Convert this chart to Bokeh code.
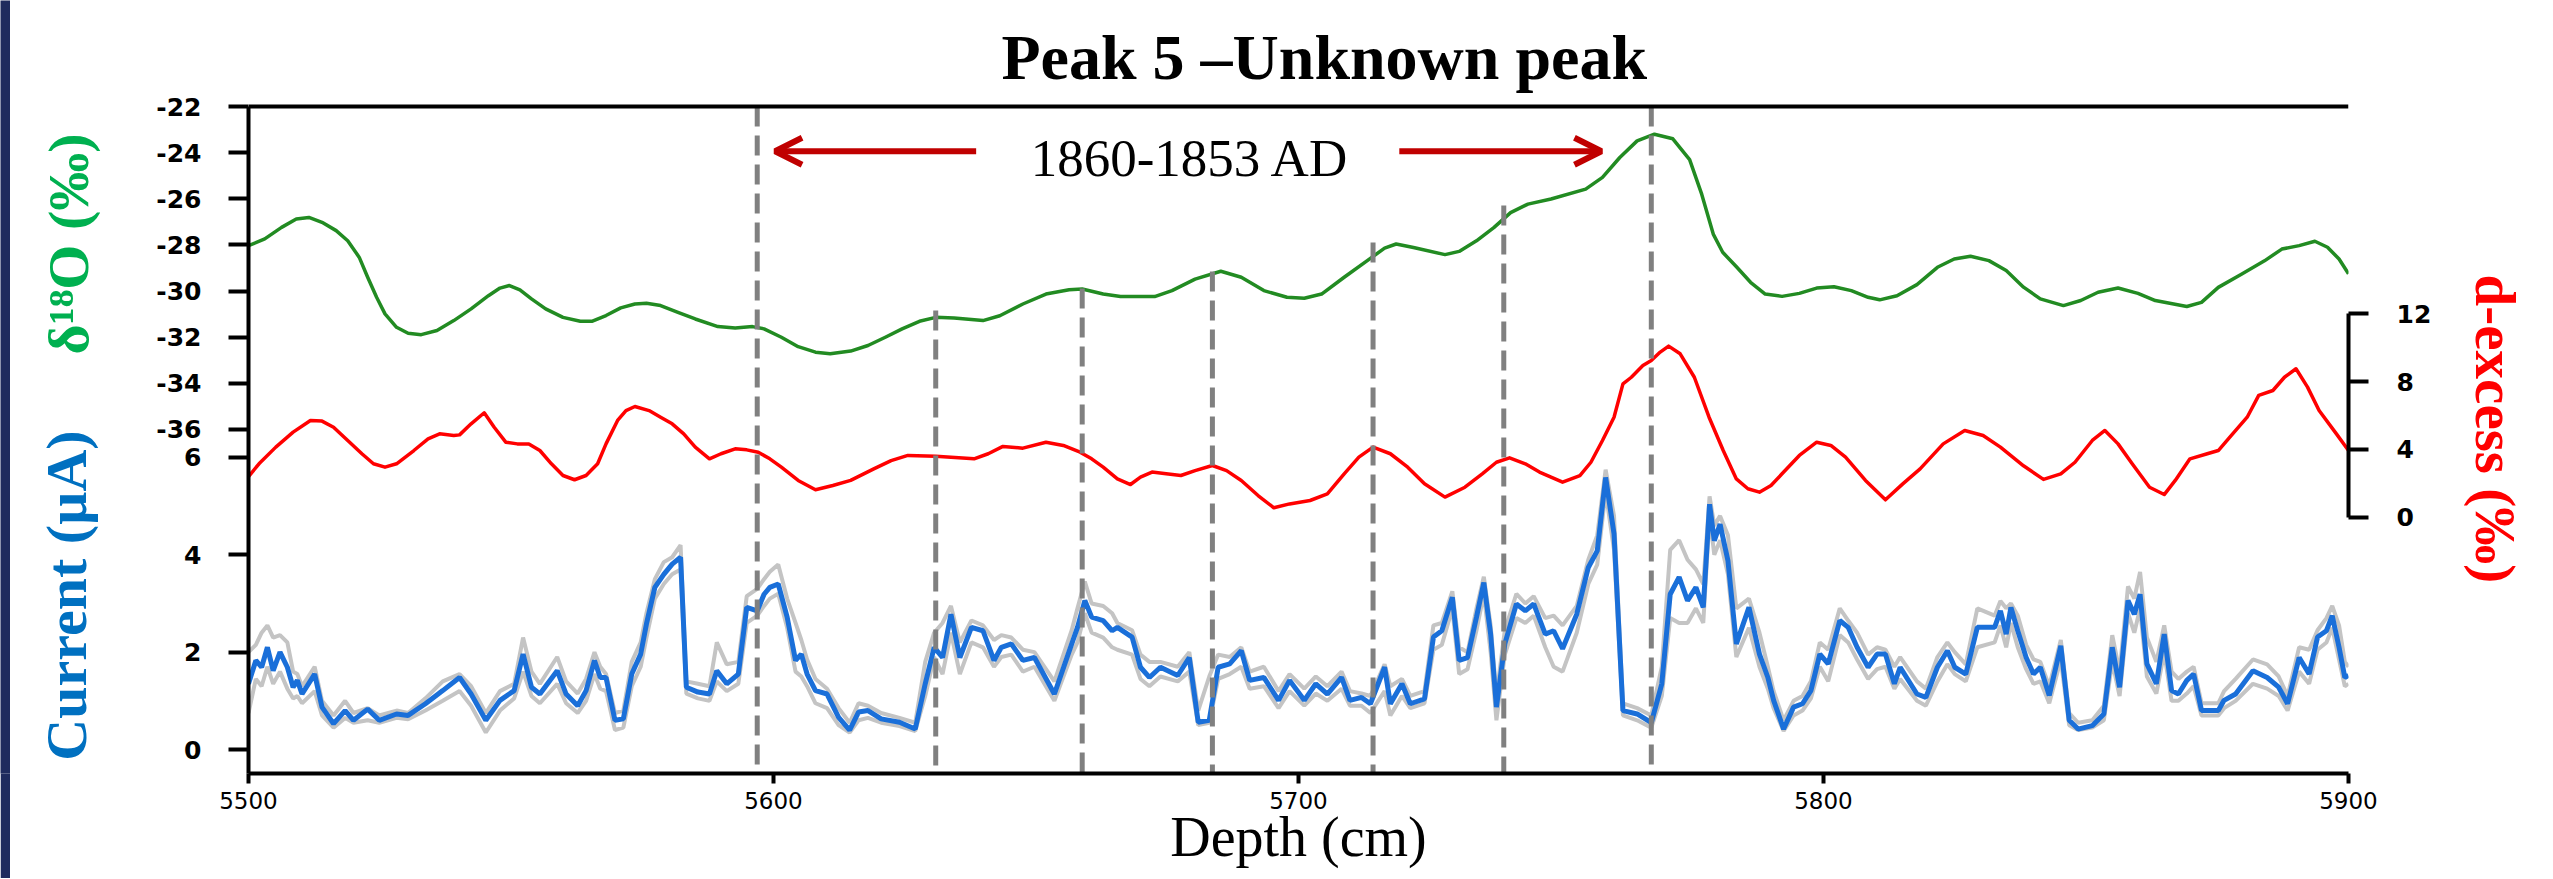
import math
from bokeh.plotting import figure
from bokeh.layouts import row
from bokeh.models import (Range1d, LinearAxis, FixedTicker, Label, Arrow, OpenHead,
                          Span, ColumnDataSource)
from bokeh.embed import file_html
from bokeh.resources import INLINE

# ---------------- data ----------------
title_text = "Peak 5 \u2013Unknown peak"
era_text = "1860-1853 AD"
x_label = "Depth (cm)"
d18o_label = "\u03b4\u00b9\u2078O (\u2030)"
current_label = "Current (\u00b5A)"
dex_label = "d-excess (\u2030)"

d18o_depth = [5500.0, 5503.1, 5506.3, 5509.1, 5511.5, 5514.0, 5516.7, 5518.9, 5521.1, 5522.7,
              5524.4, 5526.0, 5528.2, 5530.4, 5532.9, 5535.9, 5539.1, 5542.4, 5545.7, 5547.9,
              5549.7, 5551.7, 5553.9, 5556.6, 5559.9, 5563.2, 5565.4, 5568.1, 5570.9, 5573.6,
              5575.8, 5578.5, 5581.8, 5585.1, 5589.4, 5592.7, 5596.0, 5598.2, 5601.5, 5604.7,
              5608.0, 5610.8, 5614.7, 5618.0, 5621.3, 5624.5, 5627.8, 5630.9, 5634.4, 5639.9,
              5643.1, 5647.5, 5651.9, 5656.3, 5658.8, 5662.8, 5666.1, 5672.6, 5675.9, 5680.3,
              5685.2, 5689.1, 5693.4, 5697.8, 5701.1, 5704.4, 5708.7, 5713.1, 5716.4, 5718.6,
              5721.9, 5727.9, 5730.6, 5733.9, 5737.2, 5740.4, 5743.7, 5748.1, 5754.7, 5757.9,
              5761.2, 5764.5, 5767.8, 5771.3, 5774.5, 5776.8, 5779.0, 5780.8, 5783.5, 5786.1,
              5788.9, 5792.1, 5795.4, 5798.7, 5802.0, 5805.3, 5808.5, 5810.7, 5814.0, 5817.8,
              5821.7, 5824.9, 5828.0, 5831.5, 5834.8, 5838.1, 5841.3, 5845.7, 5849.0, 5852.3,
              5856.1, 5859.9, 5863.2, 5869.2, 5872.0, 5875.2, 5879.6, 5884.0, 5887.3, 5890.6,
              5893.6, 5896.0, 5898.2, 5900.0]
d18o_value = [-28.03, -27.74, -27.24, -26.88, -26.81, -27.02, -27.38, -27.82, -28.54, -29.40,
              -30.27, -30.99, -31.57, -31.83, -31.89, -31.71, -31.28, -30.77, -30.20, -29.87,
              -29.76, -29.95, -30.34, -30.77, -31.14, -31.31, -31.31, -31.06, -30.73, -30.56,
              -30.53, -30.63, -30.92, -31.21, -31.54, -31.60, -31.54, -31.64, -32.00, -32.41,
              -32.65, -32.72, -32.60, -32.36, -32.00, -31.64, -31.31, -31.14, -31.17, -31.28,
              -31.07, -30.56, -30.13, -29.94, -29.91, -30.13, -30.24, -30.24, -29.98, -29.48,
              -29.14, -29.40, -29.98, -30.27, -30.31, -30.13, -29.40, -28.68, -28.14, -27.96,
              -28.11, -28.42, -28.28, -27.82, -27.25, -26.60, -26.23, -26.01, -25.58, -25.07,
              -24.21, -23.49, -23.20, -23.40, -24.30, -25.80, -27.53, -28.32, -28.97, -29.62,
              -30.13, -30.23, -30.10, -29.87, -29.81, -29.98, -30.27, -30.38, -30.20, -29.72,
              -28.97, -28.61, -28.49, -28.68, -29.11, -29.83, -30.34, -30.63, -30.41, -30.05,
              -29.87, -30.10, -30.41, -30.67, -30.49, -29.84, -29.27, -28.69, -28.18, -28.03,
              -27.84, -28.10, -28.61, -29.25]

dex_depth = [5500.0, 5502.0, 5505.2, 5508.5, 5511.8, 5514.0, 5516.2, 5518.9, 5521.6, 5523.8,
             5526.0, 5528.2, 5531.5, 5534.2, 5536.4, 5539.1, 5540.2, 5542.4, 5544.9, 5546.8,
             5549.0, 5551.2, 5553.4, 5555.5, 5557.7, 5559.9, 5562.1, 5564.3, 5566.5, 5568.1,
             5570.3, 5571.9, 5573.6, 5576.3, 5578.5, 5580.7, 5582.9, 5585.1, 5587.8, 5590.0,
             5592.7, 5594.9, 5597.1, 5599.3, 5601.5, 5604.7, 5608.0, 5611.3, 5614.7, 5619.1,
             5622.4, 5625.6, 5630.9, 5638.2, 5640.9, 5643.7, 5647.5, 5651.9, 5655.2, 5658.4,
             5660.6, 5662.8, 5665.5, 5668.0, 5669.9, 5672.1, 5674.8, 5677.6, 5680.3, 5683.6,
             5686.3, 5689.1, 5692.3, 5695.3, 5698.3, 5702.2, 5705.5, 5708.7, 5711.5, 5714.2,
             5717.5, 5720.8, 5724.0, 5727.9, 5731.7, 5735.0, 5737.7, 5740.2, 5743.2, 5745.9,
             5750.3, 5753.6, 5755.7, 5757.9, 5760.1, 5761.8, 5763.4, 5765.6, 5767.2, 5768.9,
             5770.5, 5772.7, 5775.4, 5778.2, 5780.9, 5783.4, 5785.6, 5787.8, 5790.0, 5792.1,
             5795.4, 5798.7, 5801.4, 5804.2, 5808.0, 5811.8, 5815.1, 5818.4, 5822.8, 5826.9,
             5830.4, 5833.7, 5838.1, 5841.9, 5845.2, 5847.9, 5851.2, 5853.6, 5856.1, 5858.8,
             5862.1, 5864.9, 5867.0, 5869.8, 5873.1, 5875.2, 5877.4, 5880.7, 5882.9, 5885.6,
             5887.8, 5890.0, 5892.2, 5894.4, 5897.7, 5900.0]
dex_value = [2.41, 3.16, 4.14, 5.02, 5.71, 5.67, 5.31, 4.53, 3.75, 3.16,
             2.96, 3.16, 3.94, 4.63, 4.92, 4.82, 4.86, 5.51, 6.16, 5.31,
             4.43, 4.33, 4.33, 3.94, 3.16, 2.47, 2.22, 2.47, 3.16, 4.33,
             5.71, 6.29, 6.53, 6.29, 5.90, 5.51, 4.92, 4.14, 3.45, 3.75,
             4.04, 3.98, 3.84, 3.45, 2.96, 2.18, 1.63, 1.88, 2.18, 2.86,
             3.35, 3.65, 3.61, 3.45, 3.75, 4.18, 4.08, 4.43, 4.24, 3.84,
             3.45, 2.96, 2.27, 1.94, 2.37, 2.67, 2.57, 2.47, 2.76, 3.06,
             2.76, 2.18, 1.29, 0.57, 0.80, 1.00, 1.39, 2.57, 3.55, 4.14,
             3.75, 2.96, 1.98, 1.20, 1.78, 2.57, 3.25, 3.51, 3.16, 2.67,
             2.08, 2.47, 3.25, 4.53, 5.90, 7.86, 8.25, 8.94, 9.24, 9.73,
             10.08, 9.63, 8.25, 5.90, 3.94, 2.27, 1.69, 1.49, 1.88, 2.57,
             3.65, 4.43, 4.24, 3.55, 2.18, 1.04, 1.98, 2.86, 4.33, 5.12,
             4.82, 4.14, 3.04, 2.24, 2.57, 3.25, 4.53, 5.12, 4.33, 3.16,
             1.78, 1.35, 2.18, 3.45, 3.75, 3.94, 4.73, 5.90, 7.18, 7.47,
             8.25, 8.75, 7.67, 6.29, 4.92, 3.94]

current_depth = [5500.0, 5501.4, 5502.5, 5503.6, 5504.7, 5506.0, 5507.4, 5508.5, 5509.3, 5510.2,
                 5512.6, 5514.0, 5516.2, 5518.4, 5520.0, 5522.7, 5524.9, 5528.2, 5530.4, 5533.7,
                 5537.0, 5540.2, 5542.4, 5545.2, 5547.9, 5550.6, 5552.3, 5553.9, 5555.5, 5558.8,
                 5560.5, 5562.7, 5564.3, 5565.9, 5567.0, 5568.1, 5569.8, 5571.4, 5573.0, 5574.7,
                 5575.8, 5577.4, 5579.1, 5580.7, 5582.3, 5583.4, 5585.6, 5587.8, 5589.2, 5591.1,
                 5593.3, 5594.9, 5596.9, 5598.2, 5599.3, 5600.9, 5602.6, 5604.2, 5605.3, 5606.4,
                 5608.0, 5610.2, 5612.4, 5614.5, 5616.2, 5618.0, 5620.5, 5624.0, 5627.0, 5628.9,
                 5630.6, 5632.2, 5633.8, 5635.5, 5637.7, 5639.9, 5642.0, 5643.4, 5645.3, 5647.5,
                 5649.7, 5653.5, 5656.8, 5657.9, 5659.3, 5660.6, 5662.8, 5664.5, 5665.5, 5668.3,
                 5669.9, 5671.6, 5673.7, 5677.0, 5679.2, 5680.9, 5683.0, 5684.7, 5686.9, 5689.1,
                 5690.7, 5693.4, 5696.2, 5698.3, 5701.1, 5703.3, 5705.5, 5708.2, 5709.8, 5712.0,
                 5713.7, 5716.4, 5717.5, 5719.7, 5721.3, 5724.0, 5725.7, 5727.3, 5729.3, 5730.6,
                 5732.2, 5733.9, 5735.3, 5736.6, 5737.7, 5739.3, 5741.5, 5743.2, 5744.8, 5747.0,
                 5748.6, 5750.3, 5753.0, 5755.2, 5756.9, 5758.5, 5760.1, 5761.8, 5764.5, 5767.2,
                 5769.2, 5770.8, 5772.5, 5774.1, 5775.7, 5777.1, 5778.3, 5779.2, 5780.3, 5781.8,
                 5783.4, 5785.8, 5787.8, 5789.4, 5790.5, 5792.4, 5794.3, 5796.0, 5797.6, 5799.3,
                 5800.9, 5803.1, 5804.7, 5806.4, 5808.5, 5810.2, 5811.8, 5813.5, 5814.6, 5817.8,
                 5819.5, 5821.7, 5823.6, 5825.0, 5827.1, 5829.3, 5832.6, 5833.7, 5834.8, 5835.7,
                 5837.0, 5838.6, 5840.0, 5841.3, 5843.0, 5845.2, 5846.8, 5848.5, 5851.2, 5853.4,
                 5855.0, 5856.4, 5858.0, 5859.2, 5860.3, 5861.6, 5863.4, 5864.9, 5866.3, 5867.6,
                 5869.2, 5870.5, 5872.0, 5875.2, 5876.3, 5878.5, 5881.8, 5884.5, 5886.7, 5888.4,
                 5890.6, 5892.5, 5894.1, 5895.8, 5896.9, 5898.2, 5899.3, 5900.0]
current_mean = [1.35, 1.83, 1.69, 2.10, 1.62, 2.00, 1.69, 1.28, 1.42, 1.14,
                1.55, 0.87, 0.53, 0.80, 0.60, 0.83, 0.60, 0.73, 0.70, 0.94,
                1.21, 1.48, 1.14, 0.60, 1.01, 1.21, 1.96, 1.28, 1.14, 1.62,
                1.14, 0.90, 1.21, 1.83, 1.48, 1.48, 0.60, 0.63, 1.55, 1.96,
                2.58, 3.33, 3.60, 3.81, 3.95, 1.28, 1.18, 1.14, 1.62, 1.35,
                1.55, 2.92, 2.85, 3.19, 3.33, 3.40, 2.72, 1.83, 1.96, 1.55,
                1.21, 1.14, 0.66, 0.40, 0.77, 0.80, 0.63, 0.56, 0.42, 1.35,
                2.10, 1.89, 2.78, 1.89, 2.51, 2.44, 1.83, 2.10, 2.17, 1.83,
                1.89, 1.14, 2.17, 2.51, 3.06, 2.72, 2.65, 2.44, 2.51, 2.31,
                1.69, 1.48, 1.69, 1.52, 1.89, 0.56, 0.60, 1.69, 1.76, 2.03,
                1.42, 1.48, 1.01, 1.42, 1.01, 1.35, 1.14, 1.48, 1.01, 1.07,
                0.94, 1.69, 0.94, 1.35, 0.94, 1.04, 2.31, 2.44, 3.13, 1.83,
                1.89, 2.72, 3.43, 2.37, 0.87, 2.17, 2.99, 2.85, 2.99, 2.37,
                2.44, 2.07, 2.78, 3.74, 4.08, 5.59, 4.43, 0.80, 0.73, 0.55,
                1.35, 3.19, 3.54, 3.06, 3.33, 2.92, 5.04, 4.29, 4.63, 3.88,
                2.17, 2.92, 1.96, 1.48, 1.01, 0.42, 0.87, 0.94, 1.21, 1.96,
                1.76, 2.65, 2.51, 2.10, 1.69, 1.96, 1.96, 1.35, 1.69, 1.14,
                1.07, 1.69, 2.03, 1.69, 1.55, 2.51, 2.51, 2.85, 2.37, 2.92,
                2.44, 1.89, 1.55, 1.69, 1.11, 2.13, 0.60, 0.42, 0.49, 0.73,
                2.10, 1.28, 3.06, 2.78, 3.19, 1.76, 1.35, 2.37, 1.21, 1.14,
                1.42, 1.55, 0.80, 0.80, 1.01, 1.14, 1.62, 1.48, 1.28, 0.94,
                1.89, 1.55, 2.31, 2.44, 2.75, 2.10, 1.48, 1.52]
current_run_a = [2.00, 2.15, 2.40, 2.55, 2.30, 2.35, 2.20, 1.60, 1.55, 1.30,
                 1.70, 1.00, 0.70, 1.00, 0.75, 0.85, 0.70, 0.80, 0.75, 1.05,
                 1.40, 1.55, 1.30, 0.75, 1.20, 1.35, 2.30, 1.60, 1.35, 1.90,
                 1.40, 1.15, 1.45, 2.00, 1.70, 1.55, 0.75, 0.80, 1.80, 2.20,
                 2.80, 3.50, 3.85, 3.95, 4.20, 1.40, 1.35, 1.30, 2.20, 1.75,
                 1.80, 3.15, 3.30, 3.50, 3.65, 3.80, 3.10, 2.60, 2.25, 1.85,
                 1.45, 1.25, 0.85, 0.55, 0.95, 0.90, 0.75, 0.65, 0.55, 1.80,
                 2.40, 2.60, 2.95, 2.20, 2.65, 2.55, 2.25, 2.35, 2.30, 2.05,
                 2.00, 1.40, 2.45, 2.90, 3.45, 3.00, 2.95, 2.80, 2.60, 2.45,
                 1.95, 1.80, 1.80, 1.70, 2.00, 0.80, 1.50, 1.95, 1.90, 2.10,
                 1.60, 1.70, 1.20, 1.55, 1.25, 1.50, 1.30, 1.60, 1.20, 1.15,
                 1.10, 1.75, 1.30, 1.45, 1.10, 1.20, 2.55, 2.60, 3.25, 2.10,
                 2.00, 2.90, 3.55, 2.55, 1.10, 2.45, 3.20, 3.00, 3.15, 2.70,
                 2.75, 2.55, 2.95, 3.90, 4.40, 5.75, 4.80, 0.95, 0.85, 0.70,
                 1.70, 4.10, 4.30, 3.90, 3.70, 3.40, 5.20, 4.60, 4.80, 4.40,
                 2.90, 3.10, 2.40, 1.70, 1.20, 0.60, 1.00, 1.10, 1.40, 2.20,
                 2.05, 2.90, 2.65, 2.40, 1.95, 2.10, 2.05, 1.70, 1.90, 1.40,
                 1.25, 1.90, 2.20, 2.00, 1.75, 2.90, 2.75, 3.05, 2.90, 3.00,
                 2.75, 2.15, 1.85, 1.80, 1.30, 2.25, 0.75, 0.55, 0.60, 0.90,
                 2.35, 1.60, 3.35, 3.10, 3.65, 2.30, 1.80, 2.55, 1.60, 1.45,
                 1.60, 1.70, 0.95, 0.95, 1.20, 1.45, 1.85, 1.75, 1.50, 1.10,
                 2.10, 2.05, 2.45, 2.70, 2.95, 2.55, 1.80, 1.70]
current_run_b = [0.75, 1.45, 1.30, 1.70, 1.35, 1.60, 1.25, 1.05, 1.10, 0.95,
                 1.20, 0.70, 0.45, 0.65, 0.55, 0.60, 0.55, 0.65, 0.62, 0.80,
                 1.00, 1.20, 0.90, 0.35, 0.80, 1.05, 1.60, 1.10, 0.95, 1.35,
                 0.95, 0.75, 1.00, 1.55, 1.25, 1.20, 0.40, 0.45, 1.30, 1.70,
                 2.30, 3.10, 3.40, 3.60, 3.70, 1.15, 1.05, 1.00, 1.40, 1.20,
                 1.35, 2.60, 2.75, 2.95, 3.10, 3.20, 2.50, 1.60, 1.50, 1.30,
                 0.95, 0.85, 0.50, 0.35, 0.60, 0.65, 0.55, 0.48, 0.38, 1.10,
                 1.90, 1.55, 2.40, 1.55, 2.20, 2.10, 1.70, 1.90, 1.95, 1.60,
                 1.70, 1.00, 1.95, 2.20, 2.80, 2.40, 2.30, 2.10, 2.05, 1.95,
                 1.45, 1.30, 1.50, 1.40, 1.60, 0.50, 0.55, 1.45, 1.55, 1.70,
                 1.25, 1.30, 0.85, 1.20, 0.90, 1.15, 1.00, 1.25, 0.90, 0.90,
                 0.75, 1.20, 0.70, 1.10, 0.85, 0.95, 2.05, 2.15, 2.90, 1.55,
                 1.65, 2.45, 3.20, 2.00, 0.60, 1.95, 2.70, 2.60, 2.75, 2.10,
                 1.70, 1.60, 2.40, 3.40, 3.80, 5.30, 4.10, 0.70, 0.60, 0.45,
                 1.10, 2.70, 2.60, 2.60, 2.90, 2.60, 4.80, 4.00, 4.30, 3.60,
                 1.90, 2.50, 1.70, 1.25, 0.85, 0.38, 0.70, 0.80, 1.05, 1.70,
                 1.40, 2.35, 2.20, 1.85, 1.45, 1.65, 1.70, 1.25, 1.45, 1.00,
                 0.90, 1.40, 1.75, 1.55, 1.40, 2.10, 2.20, 2.55, 2.10, 2.60,
                 2.10, 1.65, 1.35, 1.40, 0.95, 1.85, 0.50, 0.40, 0.45, 0.60,
                 1.80, 1.10, 2.80, 2.40, 2.90, 1.50, 1.15, 2.00, 1.00, 1.00,
                 1.15, 1.30, 0.70, 0.70, 0.85, 1.00, 1.35, 1.25, 1.10, 0.80,
                 1.60, 1.35, 2.05, 2.20, 2.50, 1.85, 1.30, 1.35]

marker_depth = [5596.9, 5630.9, 5658.8, 5683.6, 5714.2, 5739.1, 5767.2]
marker_top_d18o = [-22.0, -30.84, -29.89, -29.15, -27.90, -26.29, -22.0]

arrow_left_depth = [5638.6, 5600.3]     # tail, head
arrow_right_depth = [5719.2, 5757.7]    # tail, head
arrow_d18o = -23.94

x_ticks = [5500, 5600, 5700, 5800, 5900]
d18o_ticks = [-22, -24, -26, -28, -30, -32, -34, -36]
current_ticks = [0, 2, 4, 6]
dex_ticks = [0, 4, 8, 12]

# ---------------- layout constants (pixels) ----------------
EDGE_W, LEFT_W, MAIN_W, RIGHT_W = 10, 110, 2340, 92
ROW_H = 878
MAIN_BORDER_L, MAIN_BORDER_R, MAIN_BORDER_B = 128, 112, 105
CUR_RANGE = (-0.493, 15.389)
D18_RANGE = (-50.912, -17.405)
DEX_RANGE = (-15.059, 30.412)

GREEN_CURVE = "#228b22"
RED_CURVE = "#ff0000"
BLUE_CURVE = "#1a6fd9"
GRAY_CURVE = "#c4c4c4"
DASH_GRAY = "#808080"
ARROW_RED = "#c00000"
NAVY = "#1f2b5e"
SERIF = "Liberation Serif"

cur_range = Range1d(*CUR_RANGE)
extra = {"d18o": Range1d(*D18_RANGE), "dex": Range1d(*DEX_RANGE)}
x_range = Range1d(5500, 5900)


def bare(fig, color="white"):
    fig.grid.visible = False
    fig.outline_line_color = None
    fig.background_fill_color = color
    fig.border_fill_color = color


def side_strip(w):
    f = figure(width=w, height=ROW_H, output_backend="svg", toolbar_location=None,
               title=None, x_range=Range1d(0, w), y_range=cur_range,
               x_axis_location=None, y_axis_location=None,
               min_border_left=0, min_border_right=0, min_border_top=0,
               min_border_bottom=MAIN_BORDER_B)
    f.extra_y_ranges = extra
    bare(f)
    return f


# ---------------- main plot ----------------
p = figure(width=MAIN_W, height=ROW_H, output_backend="svg", toolbar_location=None,
           title=None, x_range=x_range, y_range=cur_range,
           min_border_left=MAIN_BORDER_L, min_border_right=MAIN_BORDER_R,
           min_border_top=0, min_border_bottom=MAIN_BORDER_B)
p.extra_y_ranges = extra
bare(p)

p.line(d18o_depth, d18o_value, y_range_name="d18o", line_color=GREEN_CURVE, line_width=3.5,
       line_join="round")
p.line(dex_depth, dex_value, y_range_name="dex", line_color=RED_CURVE, line_width=3.5,
       line_join="round")
p.line(current_depth, current_run_a, line_color=GRAY_CURVE, line_width=4)
p.line(current_depth, current_run_b, line_color=GRAY_CURVE, line_width=4)
p.line(current_depth, current_mean, line_color=BLUE_CURVE, line_width=5)

mk = ColumnDataSource(dict(x=marker_depth, top=marker_top_d18o,
                           bot=[D18_RANGE[0]] * len(marker_depth)))
p.segment(x0="x", y0="top", x1="x", y1="bot", source=mk, y_range_name="d18o",
          line_color=DASH_GRAY, line_width=5, line_dash="20 9")

p.add_layout(Span(location=d18o_ticks[0], dimension="width", y_range_name="d18o",
                  line_color="black", line_width=4))


def d18_to_cur(v):
    return round(CUR_RANGE[0] + (v - D18_RANGE[0]) / (D18_RANGE[1] - D18_RANGE[0])
                 * (CUR_RANGE[1] - CUR_RANGE[0]), 6)


left_ticks = [float(t) for t in current_ticks] + [d18_to_cur(v) for v in d18o_ticks]
overrides = {float(t): str(t) for t in current_ticks}
overrides.update({d18_to_cur(v): str(v) for v in d18o_ticks})


def style_axis(ax):
    ax.axis_line_width = 4
    ax.axis_line_color = "black"
    ax.major_tick_line_width = 4
    ax.major_tick_line_color = "black"
    ax.minor_tick_line_color = None
    ax.major_tick_in = 0
    ax.major_label_text_color = "black"
    ax.major_label_text_font = "DejaVu Sans"


ly = p.yaxis[0]
style_axis(ly)
ly.ticker = FixedTicker(ticks=left_ticks)
ly.major_label_overrides = overrides
ly.bounds = (CUR_RANGE[0], d18_to_cur(d18o_ticks[0]))
ly.major_tick_out = 20
ly.major_label_standoff = 27
ly.major_label_text_font_style = "bold"
ly.major_label_text_font_size = "25px"

bx = p.xaxis[0]
style_axis(bx)
bx.ticker = FixedTicker(ticks=x_ticks)
bx.major_tick_out = 10
bx.major_label_standoff = 8
bx.major_label_text_font_size = "23px"
bx.axis_label = x_label
bx.axis_label_text_font = SERIF
bx.axis_label_text_font_style = "normal"
bx.axis_label_text_font_size = "56px"
bx.axis_label_text_color = "black"
bx.axis_label_standoff = -6

ry = LinearAxis(y_range_name="dex", ticker=FixedTicker(ticks=dex_ticks), bounds=(0, 12))
style_axis(ry)
ry.major_tick_out = 20
ry.major_label_standoff = 28
ry.major_label_text_font_style = "bold"
ry.major_label_text_font_size = "25px"
p.add_layout(ry, "right")

for tail, head in (arrow_left_depth, arrow_right_depth):
    p.add_layout(Arrow(end=OpenHead(size=27, line_color=ARROW_RED, line_width=6),
                       x_start=tail, y_start=arrow_d18o, x_end=head, y_end=arrow_d18o,
                       y_range_name="d18o", line_color=ARROW_RED, line_width=6))

p.add_layout(Label(x=5704.9, y=-19.87, y_range_name="d18o", text=title_text,
                   text_font=SERIF, text_font_style="bold", text_font_size="64px",
                   text_align="center", text_baseline="alphabetic", text_color="black"))
p.add_layout(Label(x=5679.4, y=-24.23, y_range_name="d18o", text=era_text,
                   text_font=SERIF, text_font_size="53px",
                   text_align="center", text_baseline="alphabetic", text_color="black"))

# ---------------- slide edge ----------------
edge = figure(width=EDGE_W, height=ROW_H, output_backend="svg", toolbar_location=None,
              title=None, x_axis_location=None, y_axis_location=None,
              min_border_left=0, min_border_right=0, min_border_top=0, min_border_bottom=0)
bare(edge, NAVY)

# ---------------- left strip: rotated axis titles ----------------
lp = side_strip(LEFT_W)
lp.add_layout(Label(x=58, y=-27.96, y_range_name="d18o", text=d18o_label,
                    angle=math.pi / 2, text_font=SERIF, text_font_style="bold",
                    text_font_size="58px", text_align="center", text_baseline="middle",
                    text_color="#00b050"))
lp.add_layout(Label(x=55.5, y=3.164, text=current_label,
                    angle=math.pi / 2, text_font=SERIF, text_font_style="bold",
                    text_font_size="58px", text_align="center", text_baseline="middle",
                    text_color="#0070c0"))

# ---------------- right strip ----------------
rp = side_strip(RIGHT_W)
rp.add_layout(Label(x=35, y=5.21, y_range_name="dex", text=dex_label,
                    angle=-math.pi / 2, text_font=SERIF, text_font_style="bold",
                    text_font_size="57px", text_align="center", text_baseline="middle",
                    text_color="#ff0000"))

layout = row(edge, lp, p, rp, spacing=0)
open("out.html", "w").write(file_html(layout, INLINE))
